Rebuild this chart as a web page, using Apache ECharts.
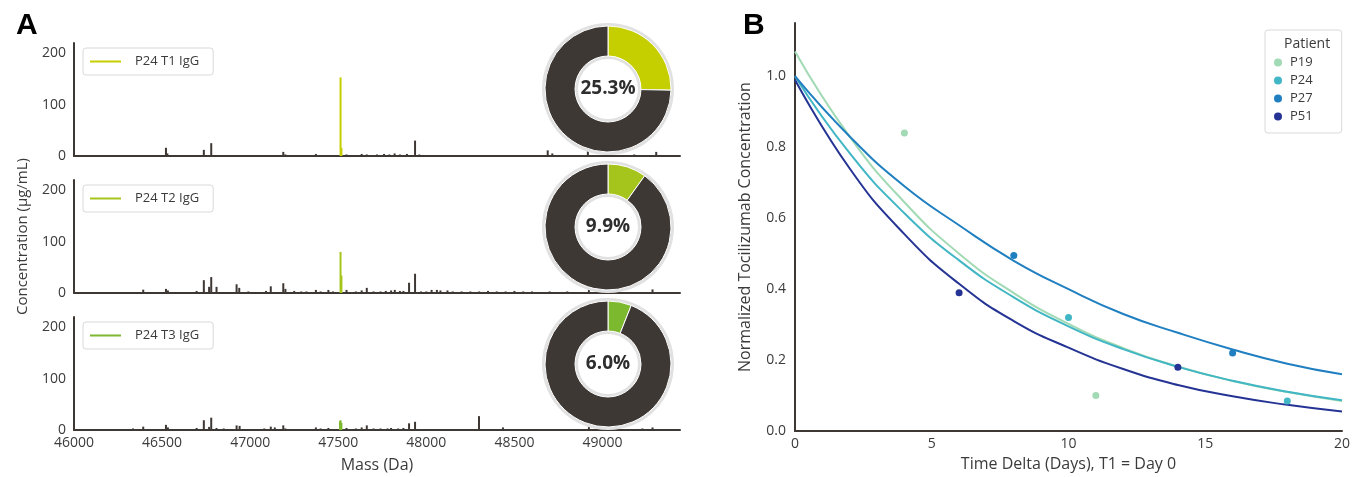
<!DOCTYPE html>
<html>
<head>
<meta charset="utf-8">
<script src="https://cdn.jsdelivr.net/npm/echarts@6/dist/echarts.min.js"></script>
<style>
html, body { margin: 0; padding: 0; background: #fff; }
#main { width: 1355px; height: 477px; }
</style>
</head>
<body>
<div id="main"></div>
<script>
// panel A: deconvoluted spectra, [mass (Da), concentration (ug/mL)]
var sampleNames = ['P24 T1 IgG', 'P24 T2 IgG', 'P24 T3 IgG'];
var sampleColors = ['#c5cf00', '#a6c51c', '#7db92f'];
var tocilizumabPct = [25.3, 9.9, 6.0];

var toci1 = [[47513, 153], [47518, 16]];
var other1 = [[46150, 1], [46200, 1], [46522, 16], [46530, 5], [46737, 12], [46779, 25], [46820, 2], [46900, 1.5],
  [46960, 2], [47010, 1.5], [47060, 2], [47188, 8], [47200, 3], [47230, 2], [47300, 2], [47373, 4], [47400, 2],
  [47440, 2], [47470, 2], [47547, 3], [47600, 2], [47633, 4], [47662, 3], [47700, 2], [47720, 3], [47760, 4],
  [47790, 3], [47820, 5], [47850, 3], [47890, 4], [47936, 30], [47960, 3], [48000, 2], [48040, 2], [48080, 2],
  [48120, 2], [48160, 2], [48200, 2], [48300, 1.5], [48400, 1.5], [48500, 2], [48600, 1.5], [48689, 11],
  [48715, 5], [48800, 2], [48917, 13], [48990, 2], [49180, 3], [49305, 8], [49330, 2]];

var toci2 = [[47513, 80], [47518, 34]];
var other2 = [[46270, 1], [46335, 2], [46393, 6.5], [46522, 8], [46533, 5], [46600, 1.5], [46696, 4], [46737, 25],
  [46767, 12], [46779, 31], [46809, 12], [46850, 2], [46890, 2], [46923, 17], [46938, 10], [46990, 3], [47090, 4],
  [47117, 13], [47150, 2], [47188, 19], [47200, 8], [47250, 4], [47290, 3], [47320, 3], [47373, 6], [47400, 3],
  [47444, 6], [47470, 3], [47547, 6], [47600, 3], [47633, 5], [47662, 10], [47700, 3], [47740, 3], [47770, 4],
  [47800, 5], [47821, 6], [47850, 4], [47870, 4], [47902, 20], [47936, 37.5], [47970, 3], [48000, 3], [48030, 6],
  [48060, 6], [48080, 5], [48120, 5], [48150, 3], [48200, 3], [48250, 3], [48300, 3], [48350, 4], [48400, 3],
  [48450, 3], [48500, 4], [48550, 3], [48600, 3], [48700, 3], [48800, 3], [48923, 10], [49000, 3], [49284, 7],
  [49350, 2]];

var toci3 = [[47510, 17], [47513, 19], [47518, 14]];
var other3 = [[46210, 2], [46280, 1.5], [46335, 3], [46393, 6.5], [46522, 10], [46533, 5], [46696, 4], [46737, 19],
  [46767, 6], [46779, 24], [46809, 4], [46850, 3], [46923, 9], [46940, 8], [47000, 2], [47080, 3], [47117, 6.5],
  [47140, 5], [47188, 9], [47200, 3], [47250, 2], [47300, 2], [47373, 5], [47400, 3], [47444, 4], [47480, 2],
  [47547, 4], [47600, 3], [47633, 5], [47662, 9], [47700, 3], [47740, 3], [47780, 3], [47800, 4], [47840, 3],
  [47870, 4], [47902, 13], [47936, 16], [47980, 2], [48050, 2], [48100, 2], [48150, 2], [48200, 2], [48299, 27],
  [48330, 2], [48380, 2], [48435, 5], [48500, 2], [48560, 2], [48620, 2], [48700, 2], [48800, 2], [48923, 10],
  [49000, 2], [49227, 3], [49284, 5], [49330, 2]];

// panel B: normalized tocilizumab concentration
var patients = ['P19', 'P24', 'P27', 'P51'];
var patientColors = ['#a1dab4', '#41b6c4', '#1f7fc0', '#253494'];
var obsP19 = [[4, 0.84], [11, 0.10]];
var obsP24 = [[10, 0.32], [18, 0.085]];
var obsP27 = [[8, 0.495], [16, 0.22]];
var obsP51 = [[6, 0.39], [14, 0.18]];
var fitDays = [0, 2, 4, 6, 8, 10, 12, 14, 16, 18, 20];
var fitP19 = [1.07, 0.83, 0.645, 0.50, 0.389, 0.302, 0.234, 0.182, 0.141, 0.11, 0.085];
var fitP24 = [1.0, 0.783, 0.614, 0.481, 0.377, 0.295, 0.231, 0.181, 0.142, 0.111, 0.087];
var fitP27 = [1.0, 0.83, 0.69, 0.58, 0.48, 0.40, 0.33, 0.277, 0.23, 0.19, 0.16];
var fitP51 = [0.99, 0.74, 0.555, 0.415, 0.31, 0.235, 0.175, 0.13, 0.098, 0.074, 0.055];

var FONT = 'Open Sans';
var TXT = '#3b3b3b';
var AX = '#3e3835';

var myChart = echarts.init(document.getElementById('main'));

var otherPeaks = [other1, other2, other3];
var tociPeaks = [toci1, toci2, toci3];
var obs = [obsP19, obsP24, obsP27, obsP51];
var fits = [fitP19, fitP24, fitP27, fitP51];
var pieCenters = [[608, 89], [608, 227], [608, 364]];
var gridTops = [43, 180, 317];

var grids = [], xAxes = [], yAxes = [], series = [], legends = [];

for (var i = 0; i < 3; i++) {
    grids.push({ left: 74, width: 606, top: gridTops[i], height: 113 });
    xAxes.push({
        type: 'value', gridIndex: i, min: 46000, max: 49440, interval: 500,
        axisLine: { lineStyle: { color: AX, width: 2 } },
        axisTick: { show: false },
        splitLine: { show: false },
        axisLabel: {
            show: i == 2, showMaxLabel: false, margin: 6, fontFamily: FONT, fontSize: 14, color: TXT,
            formatter: function (v) { return String(v); }
        },
        name: i == 2 ? 'Mass (Da)' : '', nameLocation: 'middle', nameGap: 27,
        nameTextStyle: { fontFamily: FONT, fontSize: 16, color: TXT }
    });
    yAxes.push({
        type: 'value', gridIndex: i, min: 0, max: 220, interval: 100,
        axisLine: { show: true, lineStyle: { color: AX, width: 2 } },
        axisTick: { show: false },
        splitLine: { show: false },
        axisLabel: { showMaxLabel: false, margin: 8, fontFamily: FONT, fontSize: 14, color: TXT },
        name: i == 1 ? 'Concentration (\u00b5g/mL)' : '', nameLocation: 'middle', nameGap: 44,
        nameTextStyle: { fontFamily: FONT, fontSize: 15, color: TXT }
    });
    series.push({
        type: 'bar', name: 'other' + i, xAxisIndex: i, yAxisIndex: i,
        barWidth: 2, barGap: '-100%', itemStyle: { color: AX }, data: otherPeaks[i]
    });
    series.push({
        type: 'bar', name: sampleNames[i], xAxisIndex: i, yAxisIndex: i,
        barWidth: 2, barGap: '-100%', itemStyle: { color: sampleColors[i] }, data: tociPeaks[i]
    });
    // grey ring behind donut
    series.push({
        type: 'pie', center: pieCenters[i], radius: [30, 66], silent: true, z: 5,
        label: { show: false }, labelLine: { show: false },
        itemStyle: { color: '#e1e1e1' }, data: [1]
    });
    series.push({
        type: 'pie', center: pieCenters[i], radius: [33, 63], silent: true, z: 6,
        startAngle: 90, clockwise: true,
        itemStyle: { borderColor: '#fff', borderWidth: 1 },
        labelLine: { show: false },
        data: [
            {
                value: tocilizumabPct[i], itemStyle: { color: sampleColors[i] },
                label: {
                    show: true, position: 'center', formatter: tocilizumabPct[i].toFixed(1) + '%',
                    fontFamily: FONT, fontSize: 19, fontWeight: 'bold', color: '#2e2e2e'
                }
            },
            { value: 100 - tocilizumabPct[i], itemStyle: { color: AX }, label: { show: false } }
        ]
    });
    legends.push({
        data: [sampleNames[i]], left: 83, top: gridTops[i] + 5,
        icon: 'rect', itemWidth: 31, itemHeight: 2,
        padding: [7, 14, 7, 7], borderColor: '#d9d9d9', borderWidth: 1, borderRadius: 3,
        textStyle: { fontFamily: FONT, fontSize: 13, color: TXT, padding: [0, 0, 0, 9] }
    });
}

// panel B
grids.push({ left: 795, right: 13, top: 23, bottom: 43 });
xAxes.push({
    type: 'value', gridIndex: 3, min: 0, max: 20, interval: 5,
    axisLine: { lineStyle: { color: AX, width: 2 } },
    axisTick: { show: false }, splitLine: { show: false },
    axisLabel: { margin: 6, fontFamily: FONT, fontSize: 14, color: TXT },
    name: 'Time Delta (Days), T1 = Day 0', nameLocation: 'middle', nameGap: 24,
    nameTextStyle: { fontFamily: FONT, fontSize: 16, color: TXT }
});
yAxes.push({
    type: 'value', gridIndex: 3, min: 0, max: 1.15, interval: 0.2,
    axisLine: { show: true, lineStyle: { color: AX, width: 2 } },
    axisTick: { show: false }, splitLine: { show: false },
    axisLabel: {
        showMaxLabel: false, margin: 9, fontFamily: FONT, fontSize: 14, color: TXT,
        formatter: function (v) { return v.toFixed(1); }
    },
    name: 'Normalized Tocilizumab Concentration', nameLocation: 'middle', nameGap: 42,
    nameTextStyle: { fontFamily: FONT, fontSize: 16, color: TXT }
});

for (var p = 0; p < patients.length; p++) {
    series.push({
        type: 'scatter', name: patients[p], xAxisIndex: 3, yAxisIndex: 3,
        symbolSize: 7, itemStyle: { color: patientColors[p], opacity: 1 }, z: 4, data: obs[p]
    });
}
for (var p = 0; p < patients.length; p++) {
    series.push({
        type: 'line', name: patients[p], xAxisIndex: 3, yAxisIndex: 3,
        smooth: true, showSymbol: false, z: 3,
        lineStyle: { color: patientColors[p], width: 2 },
        data: fitDays.map(function (d, j) { return [d, fits[p][j]]; })
    });
}

legends.push({
    data: patients, orient: 'vertical', left: 1265, top: 30,
    icon: 'circle', itemWidth: 8, itemHeight: 8, itemGap: 5,
    padding: [26, 29, 10, 9], borderColor: '#d9d9d9', borderWidth: 1, borderRadius: 3,
    textStyle: { fontFamily: FONT, fontSize: 13, color: TXT, padding: [0, 0, 0, 3] }
});

option = {
    backgroundColor: '#fff',
    animation: false,
    title: [
        { text: 'A', left: 11, top: 6, textStyle: { fontFamily: 'Liberation Sans', fontSize: 30, fontWeight: 'bold', color: '#000' } },
        { text: 'B', left: 738, top: 6, textStyle: { fontFamily: 'Liberation Sans', fontSize: 30, fontWeight: 'bold', color: '#000' } },
        { text: 'Patient', left: 1279, top: 32, textStyle: { fontFamily: FONT, fontSize: 14, fontWeight: 'normal', color: TXT } }
    ],
    legend: legends,
    grid: grids,
    xAxis: xAxes,
    yAxis: yAxes,
    series: series
};

myChart.setOption(option);
</script>
</body>
</html>
